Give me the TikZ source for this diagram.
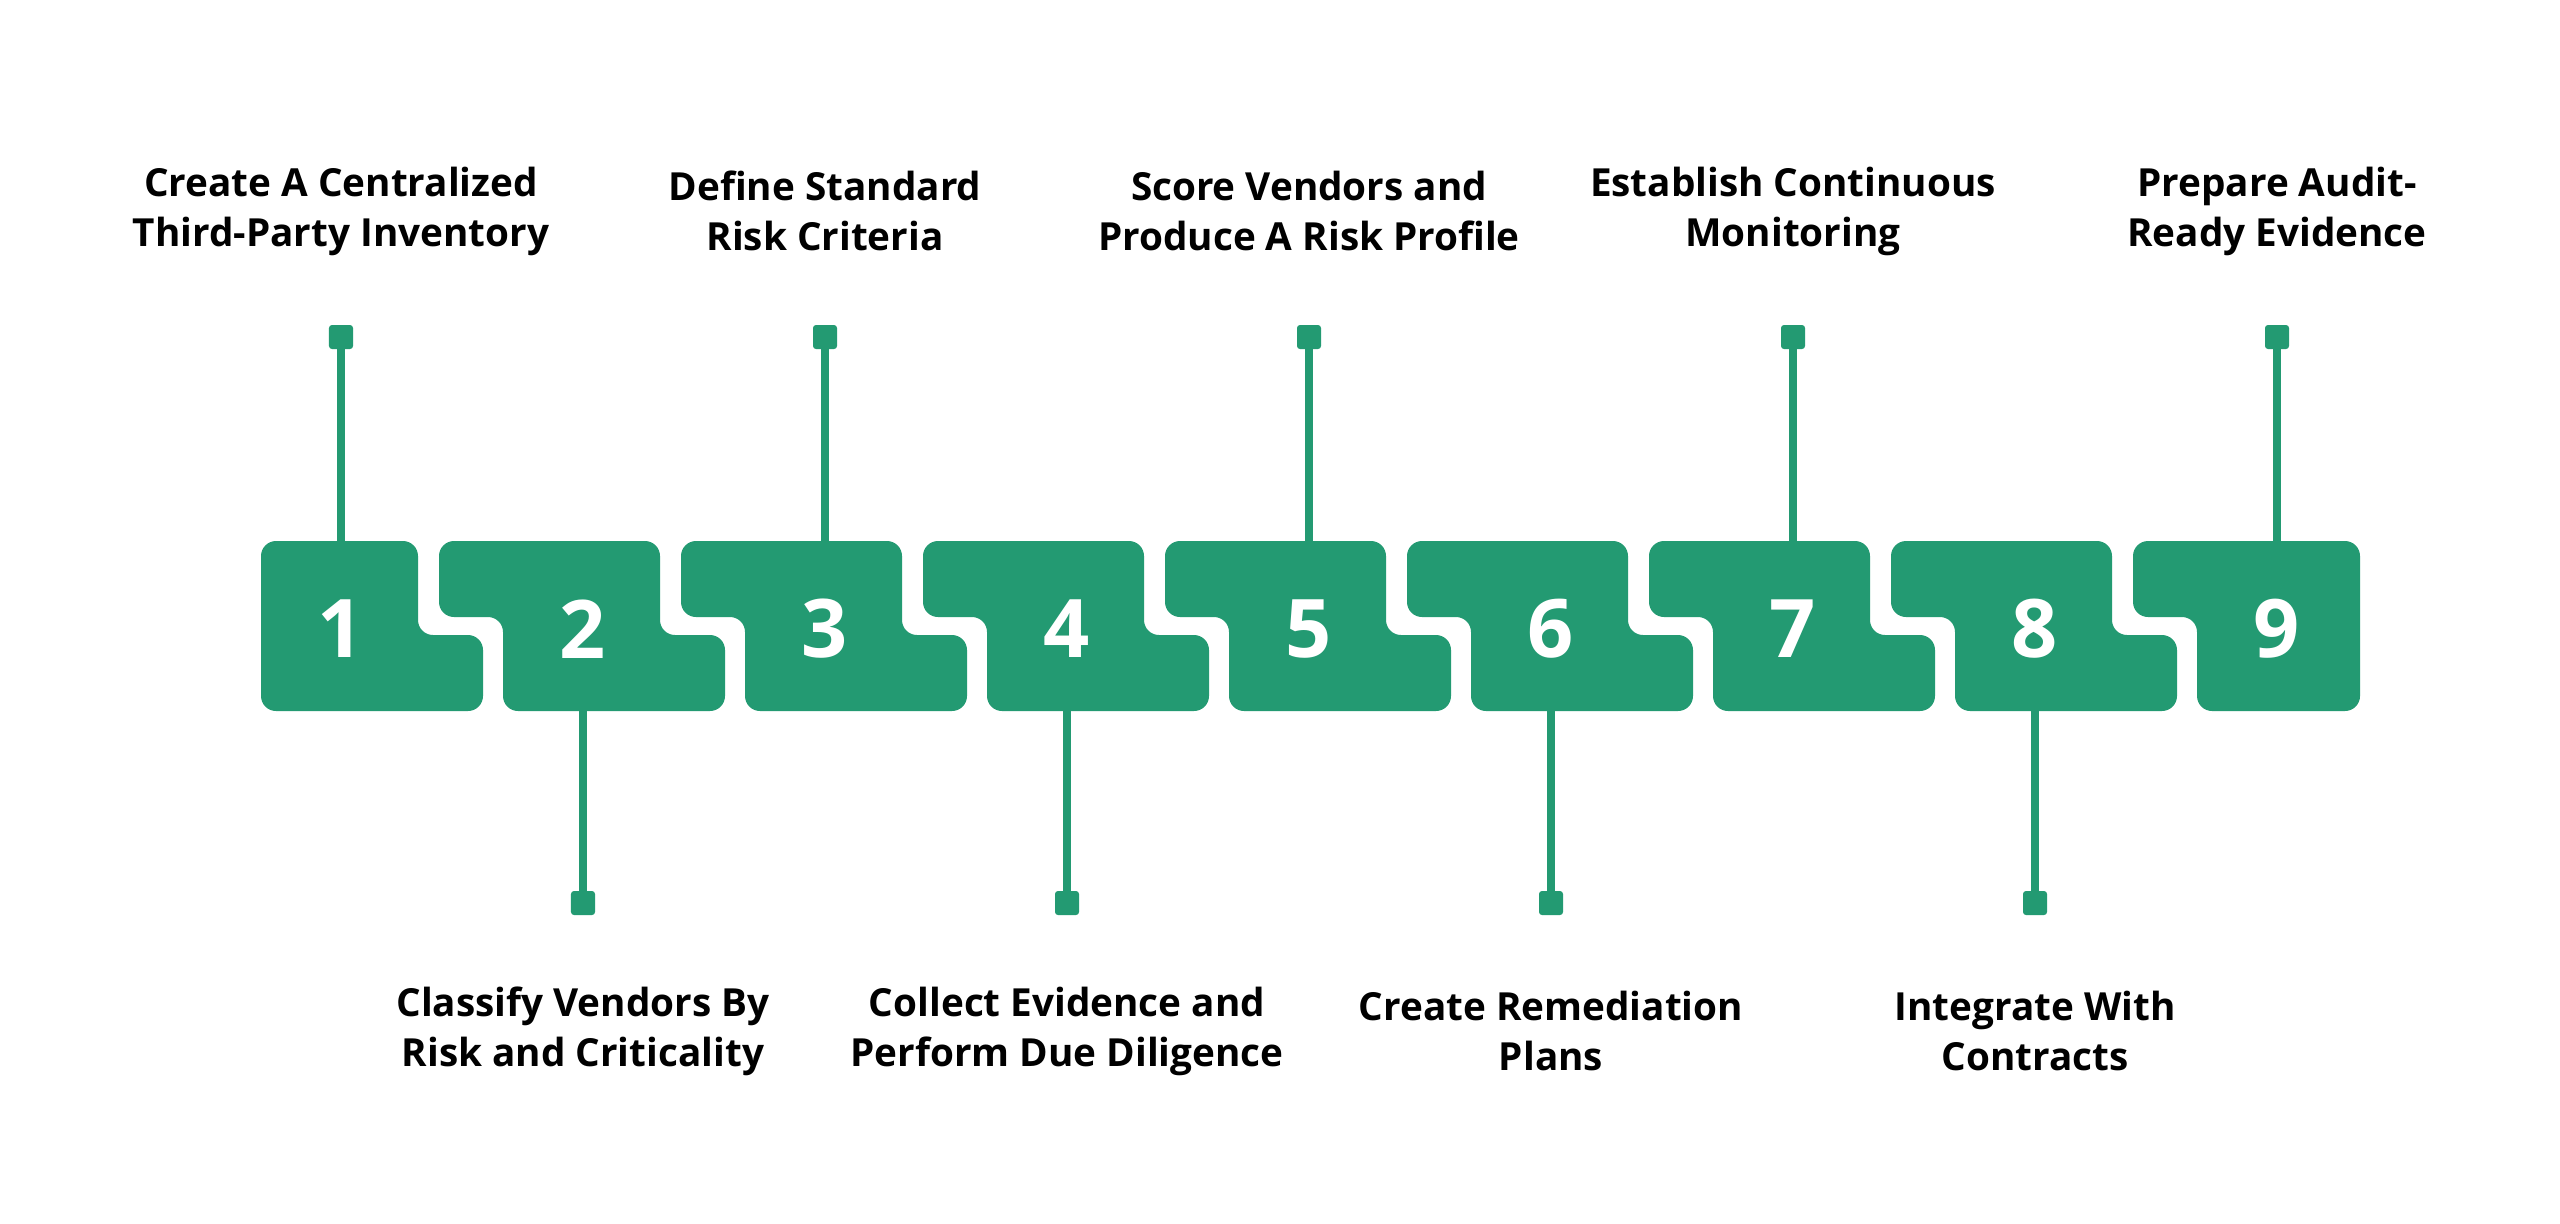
\documentclass[tikz,border=0pt]{standalone}
\usepackage{fontspec}
\setmainfont{Open Sans}
\definecolor{grn}{HTML}{239A72}
\begin{document}
\begin{tikzpicture}[x=0.01cm,y=-0.01cm,
  blk/.style={fill=grn,rounded corners=0.15cm},
  num/.style={text=white,font=\fontsize{23}{26}\selectfont\bfseries},
  lbl/.style={align=center,font=\fontsize{11}{14.2}\selectfont\bfseries,text=black},
  sq/.style={fill=grn,draw=none,minimum size=0.24cm,inner sep=0,rounded corners=0.03cm},
  con/.style={draw=grn,line width=0.08cm}]
\useasboundingbox (0,0) rectangle (2560,1223);
\foreach \k/\t in {0/{Create A Centralized\\Third-Party Inventory},1/{Classify Vendors By\\Risk and Criticality},2/{Define Standard\\Risk Criteria},3/{Collect Evidence and\\Perform Due Diligence},4/{Score Vendors and\\Produce A Risk Profile},5/{Create Remediation\\Plans},6/{Establish Continuous\\Monitoring},7/{Integrate With\\Contracts},8/{Prepare Audit-\\Ready Evidence}}{
  \pgfmathsetmacro\o{261+242*\k}
  \ifnum\k=0
    \fill[blk] (\o,541) -- (\o+157,541) -- (\o+157,635) -- (\o+222,635) -- (\o+222,711) -- (\o,711) -- cycle;
  \else\ifnum\k<8
    \fill[blk] (\o-64,541) -- (\o+157,541) -- (\o+157,635) -- (\o+222,635) -- (\o+222,711) -- (\o,711) -- (\o,617) -- (\o-64,617) -- cycle;
  \else
    \fill[blk] (\o-64,541) -- (\o+163,541) -- (\o+163,711) -- (\o,711) -- (\o,617) -- (\o-64,617) -- cycle;
  \fi\fi
  \pgfmathtruncatemacro\n{\k+1}
  \node[num] (n\n) at (\o+80,629) {\n};
  \pgfmathtruncatemacro\odd{mod(\k,2)}
  \ifnum\odd=0
    \coordinate (b\n) at (\o+80,545);
    \node[sq] (s\n) at (\o+80,337) {};
    \node[lbl] (t\n) at (\o+80,211) {\t};
    \draw[con] (s\n.center) -- (b\n);
  \else
    \coordinate (b\n) at (\o+80,707);
    \node[sq] (s\n) at (\o+80,903) {};
    \node[lbl] (t\n) at (\o+80,1031) {\t};
    \draw[con] (b\n) -- (s\n.center);
  \fi
}
\end{tikzpicture}
\end{document}
